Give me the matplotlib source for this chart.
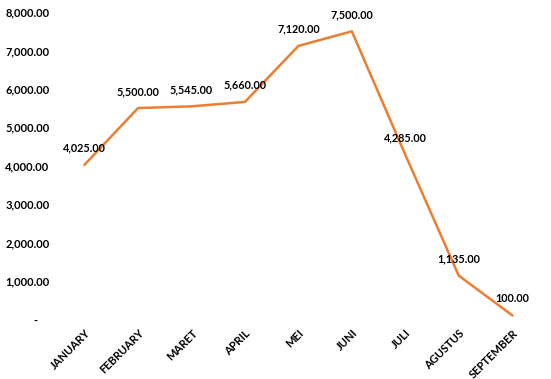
import matplotlib.pyplot as plt
from matplotlib.ticker import FuncFormatter

months = ["JANUARY", "FEBRUARY", "MARET", "APRIL", "MEI", "JUNI", "JULI", "AGUSTUS", "SEPTEMBER"]
values = [4025, 5500, 5545, 5660, 7120, 7500, 4285, 1135, 100]
y_ticks = [0, 1000, 2000, 3000, 4000, 5000, 6000, 7000, 8000]

plt.rcParams['font.family'] = ['Lato', 'DejaVu Sans']

fig = plt.figure(figsize=(5.51, 3.79), dpi=100)
ax = fig.add_axes([0.105, 0.158, 0.873, 0.81])

x = list(range(len(months)))
ax.plot(x, values, color="#ED7D31", linewidth=1.8, solid_joinstyle="round")

for xi, v in zip(x, values):
    ax.annotate(f"{v:,.2f}", (xi, v), xytext=(0, 8), textcoords="offset points",
                ha="center", va="bottom", fontsize=7.8, fontweight="bold", color="black")

ax.set_xlim(-0.5, len(months) - 0.5)
ax.set_ylim(0, 8000)
ax.set_yticks(y_ticks)
# Excel accounting format shows zero as a dash
ax.yaxis.set_major_formatter(FuncFormatter(lambda v, p: "-    " if v == 0 else f"{v:,.2f}"))
ax.set_xticks(x)
ax.set_xticklabels(months, rotation=45, ha="right", rotation_mode="anchor")

for s in ax.spines.values():
    s.set_visible(False)
ax.tick_params(axis="both", length=0, labelsize=8, labelcolor="black")
ax.tick_params(axis="y", pad=6)
ax.tick_params(axis="x", pad=6)
for lbl in ax.get_xticklabels() + ax.get_yticklabels():
    lbl.set_fontweight("bold")

fig.savefig("out.png", dpi=100)
